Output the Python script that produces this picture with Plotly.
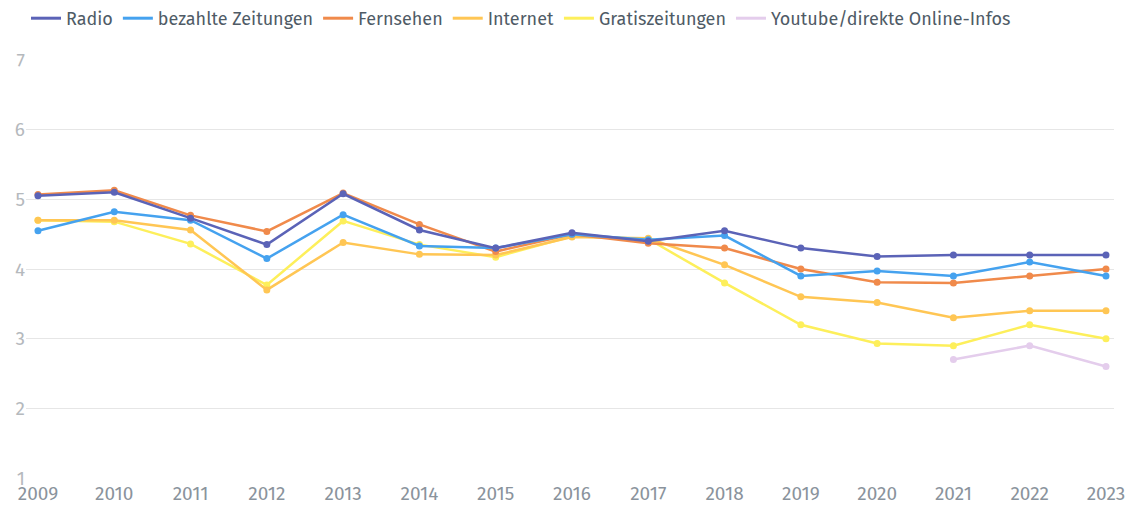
import plotly.graph_objects as go

years = list(range(2009, 2024))

radio = [5.05, 5.10, 4.73, 4.35, 5.08, 4.56, 4.30, 4.52, 4.40, 4.55, 4.30, 4.18, 4.20, 4.20, 4.20]
bezahlte_zeitungen = [4.55, 4.82, 4.70, 4.15, 4.78, 4.33, 4.30, 4.50, 4.42, 4.48, 3.90, 3.97, 3.90, 4.10, 3.90]
fernsehen = [5.07, 5.13, 4.77, 4.54, 5.09, 4.64, 4.25, 4.50, 4.37, 4.30, 4.00, 3.81, 3.80, 3.90, 4.00]
internet = [4.70, 4.70, 4.56, 3.70, 4.38, 4.21, 4.20, 4.46, 4.44, 4.06, 3.60, 3.52, 3.30, 3.40, 3.40]
gratiszeitungen = [4.70, 4.68, 4.36, 3.77, 4.69, 4.35, 4.17, 4.47, 4.43, 3.80, 3.20, 2.93, 2.90, 3.20, 3.00]
youtube_years = [2021, 2022, 2023]
youtube = [2.70, 2.90, 2.60]

series = [
    ("Radio", years, radio, "#5b63b7"),
    ("bezahlte Zeitungen", years, bezahlte_zeitungen, "#45a2ef"),
    ("Fernsehen", years, fernsehen, "#f08a4b"),
    ("Internet", years, internet, "#ffc654"),
    ("Gratiszeitungen", years, gratiszeitungen, "#fdef5b"),
    ("Youtube/direkte Online-Infos", youtube_years, youtube, "#e4cdec"),
]

fig = go.Figure()

# draw the lines first, from back to front
for name, xs, ys, color in reversed(series):
    fig.add_trace(
        go.Scatter(
            x=xs,
            y=ys,
            mode="lines+markers",
            name=name,
            line=dict(color=color, width=2.5),
            marker=dict(color=color, size=7),
            showlegend=False,
        )
    )

# legend entries show only a line
for name, xs, ys, color in series:
    fig.add_trace(
        go.Scatter(
            x=[None],
            y=[None],
            mode="lines",
            name=name,
            line=dict(color=color, width=3),
        )
    )

fig.update_xaxes(
    range=[2008.843, 2023.105],
    tickmode="array",
    tickvals=years,
    showgrid=False,
    zeroline=False,
    showline=False,
    ticklabelstandoff=2,
    tickfont=dict(size=19, color="#8a939c"),
)
fig.update_yaxes(
    range=[1, 7],
    dtick=1,
    gridcolor="#e6e6e6",
    gridwidth=1,
    zeroline=False,
    showline=False,
    tickfont=dict(size=19, color="#b5b9bd"),
)

fig.update_layout(
    width=1130,
    height=506,
    paper_bgcolor="white",
    plot_bgcolor="white",
    font=dict(family="Fira Sans, Noto Sans, sans-serif", color="#4f5b66"),
    margin=dict(l=26, r=16, t=60, b=28, autoexpand=False),
    legend=dict(
        orientation="h",
        x=0,
        xanchor="left",
        y=1.0,
        yanchor="top",
        yref="container",
        font=dict(size=18, color="#4f5b66"),
        itemwidth=30,
        traceorder="normal",
    ),
    showlegend=True,
)

# the page body has a default margin, drop it so the figure sits at 0,0
fig.write_html(
    "out.html",
    config={"displayModeBar": False},
    post_script="document.body.style.margin = '0';",
)
